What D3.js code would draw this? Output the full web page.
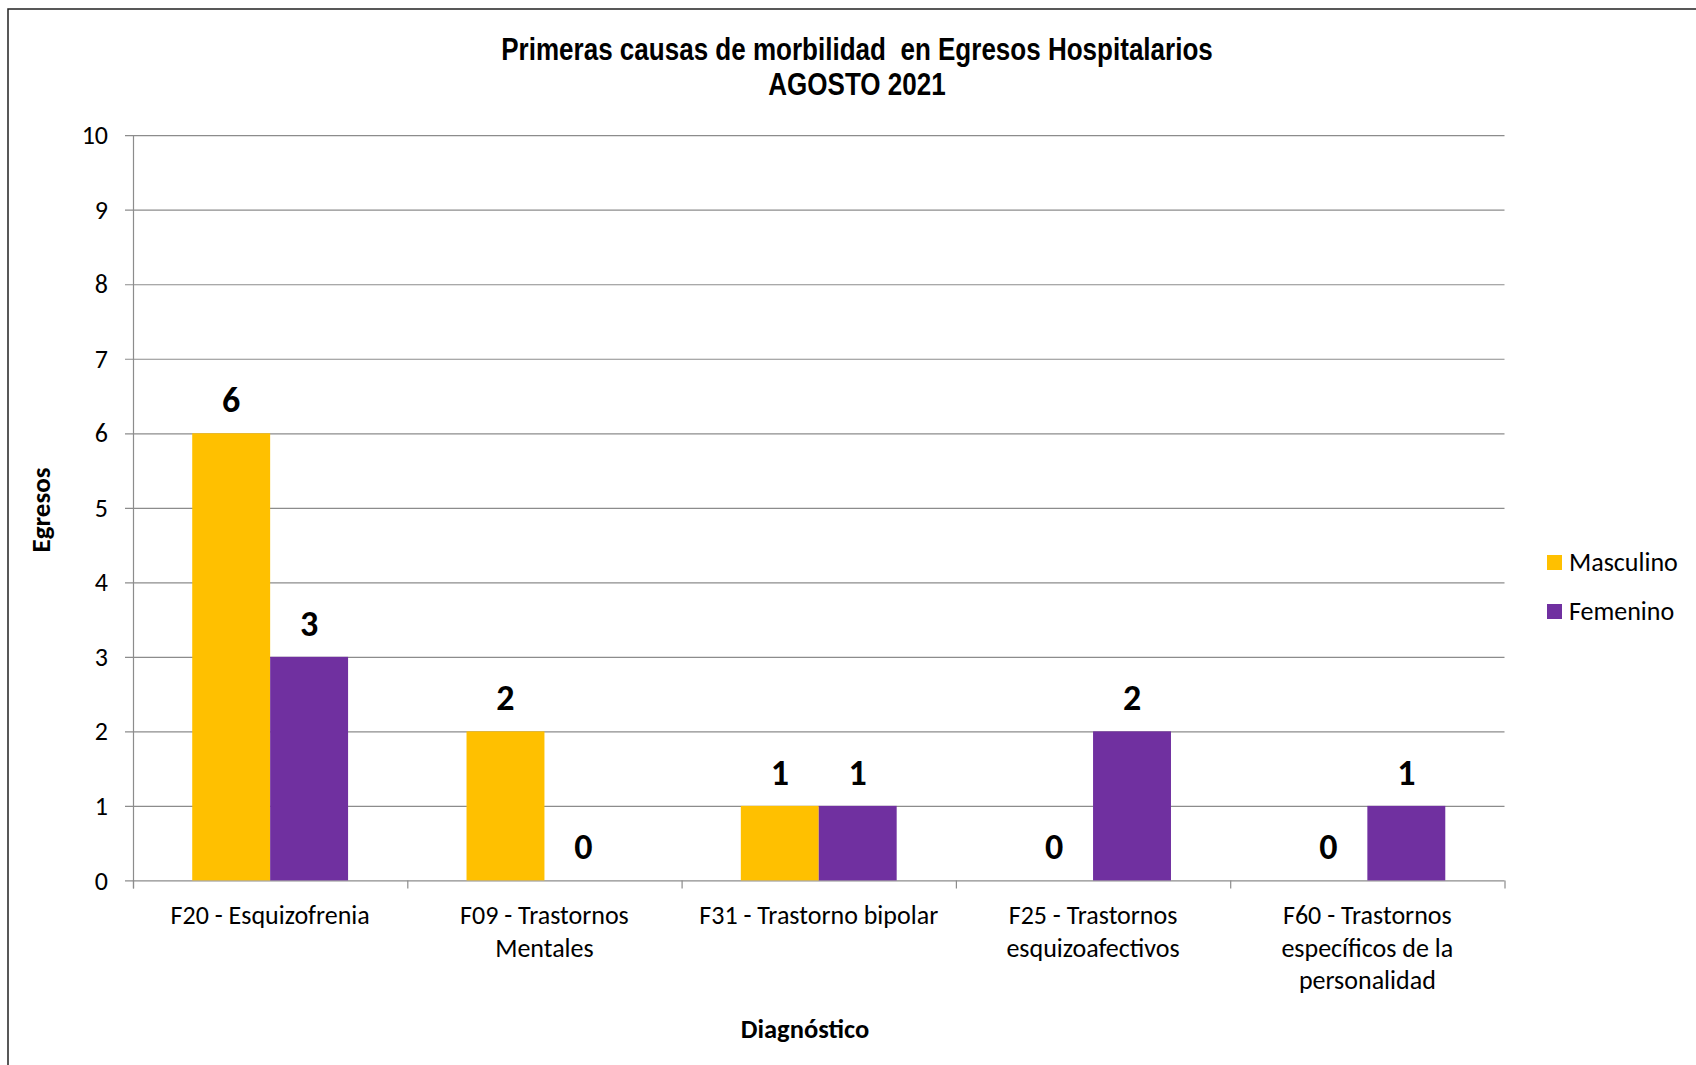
<!DOCTYPE html>
<html>
<head>
<meta charset="utf-8">
<script src="https://cdn.jsdelivr.net/npm/d3@7"></script>
<style>
  body { margin: 0; background: #fff; }
  svg { display: block; }
  .narrow { font-family: "Liberation Sans Narrow", "Arial Narrow", "Liberation Sans", sans-serif; }
  .body { font-family: Carlito, Lato, "Open Sans", sans-serif; }
</style>
</head>
<body>
<svg width="1696" height="1065"></svg>
<script>
var categories = [
  ["F20 - Esquizofrenia"],
  ["F09 - Trastornos", "Mentales"],
  ["F31 - Trastorno bipolar"],
  ["F25 - Trastornos", "esquizoafectivos"],
  ["F60 - Trastornos", "específicos de la", "personalidad"]
];
var seriesNames = ["Masculino", "Femenino"];
var masculino = [6, 2, 1, 0, 0];
var femenino = [3, 0, 1, 2, 1];
var yTicks = [0, 1, 2, 3, 4, 5, 6, 7, 8, 9, 10];
var colors = ["#FFC000", "#7030A0"];

var svg = d3.select("svg"),
    width = +svg.attr("width"),
    height = +svg.attr("height");

var margin = {left: 133, right: 1504.5, top: 135.2, bottom: 880.4};
var fs = 26;

// outer chart border
svg.append("rect")
    .attr("x", 8).attr("y", 9)
    .attr("width", width + 20).attr("height", height + 20)
    .attr("fill", "none")
    .attr("stroke", "#222")
    .attr("stroke-width", 1.5);

var x0 = d3.scaleBand()
    .domain(d3.range(categories.length))
    .range([margin.left, margin.right]);

var gapRatio = 1.52;
var barW = x0.bandwidth() / (2 + gapRatio);

var y = d3.scaleLinear()
    .domain([0, 10])
    .range([margin.bottom, margin.top]);

// gridlines
svg.append("g")
    .selectAll("line")
    .data(yTicks)
    .enter().append("line")
      .attr("x1", margin.left - 8)
      .attr("x2", margin.right)
      .attr("y1", function(d) { return y(d) + 0.5; })
      .attr("y2", function(d) { return y(d) + 0.5; })
      .attr("stroke", "#8c8c8c")
      .attr("stroke-width", 1.2);

// y axis labels
svg.append("g")
    .attr("class", "body")
    .selectAll("text")
    .data(yTicks)
    .enter().append("text")
      .attr("x", 108)
      .attr("y", function(d) { return y(d); })
      .attr("dy", "0.35em")
      .attr("text-anchor", "end")
      .attr("font-size", fs)
      .attr("fill", "#000")
      .text(function(d) { return d; });

// left axis line
svg.append("line")
    .attr("x1", margin.left + 0.5).attr("x2", margin.left + 0.5)
    .attr("y1", margin.top).attr("y2", margin.bottom + 8)
    .attr("stroke", "#8c8c8c").attr("stroke-width", 1.2);

// x category tick marks
svg.append("g")
    .selectAll("line")
    .data(d3.range(categories.length + 1))
    .enter().append("line")
      .attr("x1", function(d) { return margin.left + d * x0.step() + 0.5; })
      .attr("x2", function(d) { return margin.left + d * x0.step() + 0.5; })
      .attr("y1", margin.bottom)
      .attr("y2", margin.bottom + 8)
      .attr("stroke", "#8c8c8c").attr("stroke-width", 1.2);

// bars
var series = [masculino, femenino];
var groups = svg.append("g")
    .selectAll("g")
    .data(series)
    .enter().append("g")
      .attr("fill", function(d, i) { return colors[i]; });

function barX(i, s) {
  return x0(i) + (x0.bandwidth() - 2 * barW) / 2 + s * barW;
}

groups.each(function(vals, s) {
  var g = d3.select(this);
  g.selectAll("rect")
    .data(vals)
    .enter().append("rect")
      .attr("x", function(d, i) { return barX(i, s); })
      .attr("y", function(d) { return y(d); })
      .attr("width", barW)
      .attr("height", function(d) { return y(0) - y(d); });

  svg.append("g")
      .attr("class", "body")
    .selectAll("text")
    .data(vals)
    .enter().append("text")
      .attr("x", function(d, i) { return barX(i, s) + barW / 2; })
      .attr("y", function(d) { return y(d) - 21; })
      .attr("text-anchor", "middle")
      .attr("font-size", 36)
      .attr("font-weight", "bold")
      .attr("fill", "#000")
      .text(function(d) { return d; });
});

// x labels
var xl = svg.append("g")
    .attr("class", "body")
    .selectAll("text")
    .data(categories)
    .enter().append("text")
      .attr("text-anchor", "middle")
      .attr("font-size", fs)
      .attr("fill", "#000")
      .attr("x", function(d, i) { return x0(i) + x0.bandwidth() / 2; })
      .attr("y", 924);

xl.selectAll("tspan")
    .data(function(d) { return d; })
    .enter().append("tspan")
      .attr("x", function() { return d3.select(this.parentNode).attr("x"); })
      .attr("dy", function(d, i) { return i === 0 ? 0 : 32.5; })
      .text(function(d) { return d; });

// axis titles
svg.append("text")
    .attr("class", "body")
    .attr("x", 805).attr("y", 1038)
    .attr("text-anchor", "middle")
    .attr("font-size", 26.5)
    .attr("font-weight", "bold")
    .text("Diagnóstico");

svg.append("text")
    .attr("class", "body")
    .attr("transform", "translate(50,510) rotate(-90)")
    .attr("text-anchor", "middle")
    .attr("font-size", 27)
    .attr("font-weight", "bold")
    .text("Egresos");

// title (condensed to mimic a narrow face)
var title = svg.append("text")
    .attr("class", "narrow")
    .attr("text-anchor", "middle")
    .attr("font-size", 31)
    .attr("font-weight", "bold")
    .attr("fill", "#000")
    .attr("transform", "translate(857,0) scale(0.84,1)");
title.append("tspan").attr("x", 0).attr("y", 60)
    .text("Primeras causas de morbilidad\u00a0 en Egresos Hospitalarios");
title.append("tspan").attr("x", 0).attr("y", 95).text("AGOSTO 2021");

// legend
var legend = svg.append("g")
    .attr("class", "body")
    .selectAll("g")
    .data(seriesNames)
    .enter().append("g")
      .attr("transform", function(d, i) { return "translate(1547," + (562 + i * 49) + ")"; });

legend.append("rect")
    .attr("x", 0).attr("y", -7)
    .attr("width", 15).attr("height", 15)
    .attr("fill", function(d, i) { return colors[i]; });

legend.append("text")
    .attr("x", 22).attr("y", 0)
    .attr("dy", "0.35em")
    .attr("font-size", fs)
    .attr("fill", "#000")
    .text(function(d) { return d; });
</script>
</body>
</html>
